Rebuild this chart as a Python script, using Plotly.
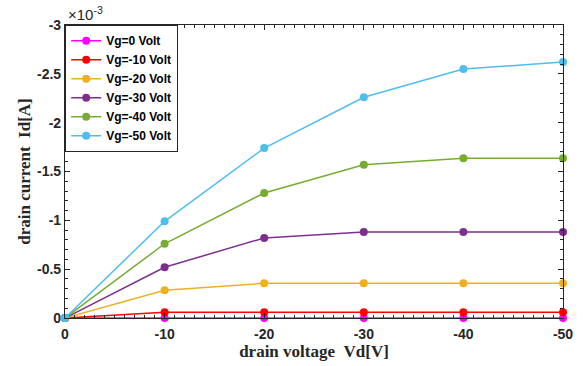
import plotly.graph_objects as go

vd = [0, -10, -20, -30, -40, -50]
names = ["Vg=0 Volt", "Vg=-10 Volt", "Vg=-20 Volt", "Vg=-30 Volt", "Vg=-40 Volt", "Vg=-50 Volt"]
# drain current in units of 1e-3 A
id_vg0 = [0, 0, 0, 0, 0, 0]
id_vg10 = [0, -0.06, -0.06, -0.06, -0.06, -0.06]
id_vg20 = [0, -0.285, -0.355, -0.355, -0.355, -0.355]
id_vg30 = [0, -0.52, -0.82, -0.88, -0.88, -0.88]
id_vg40 = [0, -0.76, -1.28, -1.57, -1.635, -1.635]
id_vg50 = [0, -0.99, -1.74, -2.26, -2.55, -2.62]
series = [id_vg0, id_vg10, id_vg20, id_vg30, id_vg40, id_vg50]
colors = ["#FF00FF", "#FF0000", "#EDB120", "#7E2F8E", "#77AC30", "#4DBEEE"]

x_ticks = [0, -10, -20, -30, -40, -50]
y_ticks = [0, -0.5, -1, -1.5, -2, -2.5, -3]
y_ticklabels = ["0", "-0.5", "-1", "-1.5", "-2", "-2.5", "-3"]

fig = go.Figure()
for name, ys, c in zip(names, series, colors):
    fig.add_trace(go.Scatter(x=vd, y=ys, name=name, mode="lines+markers",
                             line=dict(color=c, width=1.5),
                             marker=dict(color=c, size=8),
                             cliponaxis=False))

axcol = "#262626"
tickfont = dict(family="Liberation Sans, Arial", size=14, color="#262626", weight="bold")
titlefont = dict(family="Liberation Serif, Times New Roman", size=17, color="#262626", weight="bold")
fig.update_layout(
    width=583, height=366,
    margin=dict(l=65, r=10, t=25, b=48),
    paper_bgcolor="white", plot_bgcolor="white",
    showlegend=True,
    legend=dict(x=0, y=1, xanchor="left", yanchor="top",
                bordercolor=axcol, borderwidth=1.2, bgcolor="white",
                font=dict(family="Liberation Sans, Arial", size=12, color="black", weight="bold"),
                itemwidth=30, tracegroupgap=0),
    xaxis=dict(range=[0, -50], tickvals=x_ticks, ticktext=[str(v) for v in x_ticks],
               showgrid=False, zeroline=False, showline=True, linecolor=axcol, linewidth=1.2,
               mirror="ticks", ticks="inside", ticklen=5, tickcolor=axcol,
               minor=dict(dtick=1, ticks="inside", ticklen=3, tickcolor=axcol),
               tickfont=tickfont, ticklabelstandoff=3, ticklabeloverflow="allow",
               title=dict(text="drain voltage\u00a0\u00a0Vd[V]", font=titlefont, standoff=2)),
    yaxis=dict(range=[0, -3], tickvals=y_ticks, ticktext=y_ticklabels,
               showgrid=False, zeroline=False, showline=True, linecolor=axcol, linewidth=1.2,
               mirror="ticks", ticks="inside", ticklen=5, tickcolor=axcol,
               minor=dict(dtick=0.1, ticks="inside", ticklen=3, tickcolor=axcol),
               tickfont=tickfont, ticklabeloverflow="allow",
               title=dict(text="drain current\u00a0\u00a0Id[A]", font=titlefont, standoff=2)),
    annotations=[dict(text="\u00d710<sup>-3</sup>", xref="paper", yref="paper", x=0, y=1,
                      xanchor="left", yanchor="bottom", showarrow=False, xshift=1,
                      font=dict(family="Liberation Sans, Arial", size=15, color="#262626"))],
)

fig.write_html("out.html")
